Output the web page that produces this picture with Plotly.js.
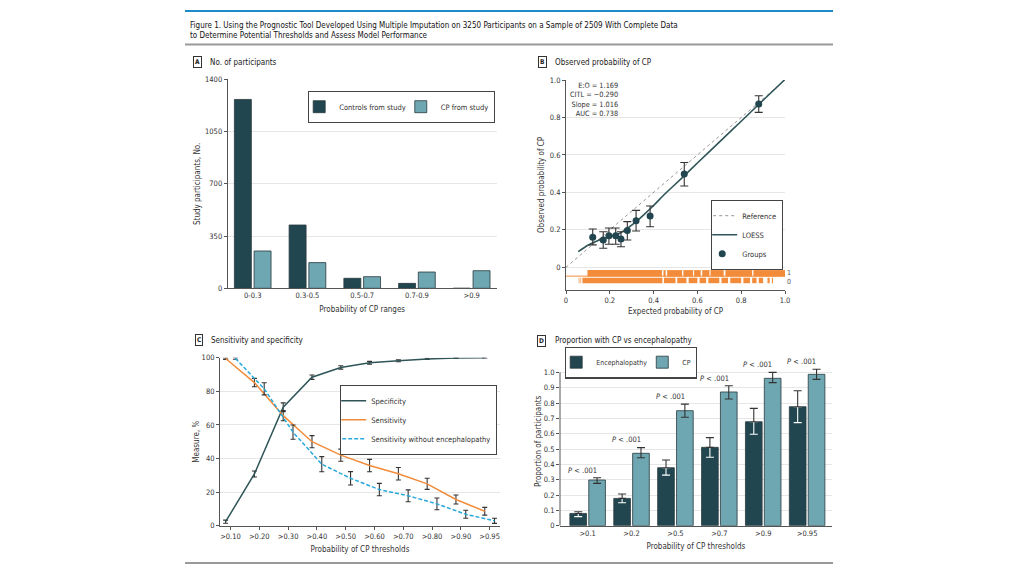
<!DOCTYPE html>
<html><head><meta charset="utf-8">
<script src="https://cdn.plot.ly/plotly-3.0.1.min.js"></script>
<style>html,body{margin:0;padding:0;background:#fff}#chart{width:1024px;height:576px}</style>
</head><body><div id="chart"></div>
<script>
// ---------- Panel A: No. of participants ----------
const rangeCats = ['0-0.3', '0.3-0.5', '0.5-0.7', '0.7-0.9', '>0.9'];
const controlsCounts = [1265, 424, 67, 33, 0];
const cpCounts = [250, 172, 78, 109, 118];

// ---------- Panel B: calibration ----------
const groupExpected = [0.122, 0.170, 0.196, 0.227, 0.251, 0.280, 0.320, 0.384, 0.540, 0.880];
const groupObserved = [0.160, 0.146, 0.169, 0.169, 0.151, 0.196, 0.249, 0.274, 0.498, 0.872];
const groupLow      = [0.120, 0.102, 0.123, 0.123, 0.110, 0.146, 0.194, 0.217, 0.434, 0.827];
const groupHigh     = [0.205, 0.190, 0.210, 0.210, 0.190, 0.244, 0.304, 0.327, 0.560, 0.916];
const loessX = [0.056, 0.10, 0.15, 0.20, 0.25, 0.30, 0.35, 0.40, 0.45, 0.50, 0.55, 0.60, 0.70, 0.80, 0.90, 1.00];
const loessY = [0.084, 0.118, 0.145, 0.163, 0.185, 0.225, 0.275, 0.330, 0.390, 0.445, 0.500, 0.557, 0.668, 0.780, 0.892, 1.003];
const referenceX = [0, 1];
const referenceY = [0, 1];
const rugCP = [[0.098,0.438],[0.445,0.455],[0.462,0.530],[0.536,0.580],[0.585,0.615],[0.622,0.655],[0.660,0.720],[0.728,0.850],[0.856,1.0]];
const rugControls = [[0.058,0.061],[0.066,0.069],[0.075,0.440],[0.447,0.500],[0.508,0.550],[0.560,0.600],[0.610,0.640],[0.650,0.700],[0.710,0.740],[0.750,0.800],[0.810,0.840],[0.850,0.870],[0.880,0.900],[0.920,0.930],[0.940,0.945]];
const statsText = ['E:O = 1.169', 'CITL = −0.290', 'Slope = 1.016', 'AUC = 0.738'];

// ---------- Panel C: sensitivity and specificity ----------
const thresholdLabels = ['>0.10', '>0.20', '>0.30', '>0.40', '>0.50', '>0.60', '>0.70', '>0.80', '>0.90', '>0.95'];
const specificity    = [2.4, 30.8, 70.5, 88.4, 94.2, 97.0, 98.2, 99.3, 99.8, 100];
const specificityErr = [0.9, 1.8, 2.6, 1.3, 1.0, 0.8, 0.6, 0.4, 0.3, 0.2];
const sensitivity    = [99.5, 85.2, 65.5, 50.0, 42.0, 35.8, 30.9, 24.9, 15.6, 8.6];
const sensitivityErr = [0.5, 2.5, 3.0, 3.6, 3.6, 3.7, 3.7, 3.3, 2.7, 2.3];
const sensNoEnc      = [99.6, 81.5, 55.7, 36.6, 28.2, 21.5, 17.8, 13.0, 6.8, 2.9];
const sensNoEncErr   = [0.5, 3.6, 4.2, 4.5, 4.0, 3.7, 3.5, 3.5, 2.4, 1.5];

// ---------- Panel D: proportion with CP vs encephalopathy ----------
const dCats = ['>0.1', '>0.2', '>0.5', '>0.7', '>0.9', '>0.95'];
const encProp = [0.080, 0.178, 0.378, 0.511, 0.678, 0.776];
const encLow  = [0.059, 0.150, 0.330, 0.446, 0.596, 0.672];
const encHigh = [0.091, 0.207, 0.428, 0.574, 0.765, 0.880];
const cpProp  = [0.298, 0.472, 0.750, 0.872, 0.961, 0.987];
const cpLow   = [0.276, 0.443, 0.707, 0.826, 0.933, 0.954];
const cpHigh  = [0.313, 0.509, 0.793, 0.913, 1.000, 1.020];
const pLabel = '<i>P</i> < .001';

// ---------- styling ----------
const FONT = 'DejaVu Sans Condensed, Liberation Sans Narrow, Roboto, Arial, sans-serif';
const DARK = '#21464f', TEAL = '#6ea6b1', OUTLINE = '#2a3a3f';
const ORANGE = '#f28c3a', BLUE = '#28a9dd', SPEC = '#2f5558', GRID = '#e6e6e6', AX = '#555';
const PX = x => x / 1024;
const PY = y => 1 - y / 576;

const idx = a => a.map((_, i) => i);
const segs = (list, y) => {
  const xs = [], ys = [];
  list.forEach(s => { xs.push(s[0], s[1], null); ys.push(y, y, null); });
  return {x: xs, y: ys};
};

// bar geometry (in category units)
const aWidth = 0.31, aOffCtrl = -0.335, aOffCP = 0.025;
const dWidth = 0.38, dOffEnc = -0.405, dOffCP = 0.025;
const cShift = 0.17;

const traces = [];

// A
traces.push({type: 'bar', x: rangeCats, y: controlsCounts, name: 'Controls from study', xaxis: 'x', yaxis: 'y',
  width: aWidth, offset: aOffCtrl, marker: {color: DARK, line: {color: OUTLINE, width: 0.8}}, legend: 'legend', hoverinfo: 'skip'});
traces.push({type: 'bar', x: rangeCats, y: cpCounts, name: 'CP from study', xaxis: 'x', yaxis: 'y',
  width: aWidth, offset: aOffCP, marker: {color: TEAL, line: {color: OUTLINE, width: 0.8}}, legend: 'legend', hoverinfo: 'skip'});

// B
const r1 = segs(rugCP, -0.032), r0 = segs(rugControls, -0.070);
traces.push({type: 'scatter', mode: 'lines', x: [0, 1], y: [-0.047, -0.047], xaxis: 'x2', yaxis: 'y2', showlegend: false,
  line: {color: ORANGE, width: 1}, hoverinfo: 'skip'});
traces.push({type: 'scatter', mode: 'lines', x: r1.x, y: r1.y, xaxis: 'x2', yaxis: 'y2', showlegend: false,
  line: {color: ORANGE, width: 6.5}, connectgaps: false, hoverinfo: 'skip'});
traces.push({type: 'scatter', mode: 'lines', x: r0.x, y: r0.y, xaxis: 'x2', yaxis: 'y2', showlegend: false,
  line: {color: ORANGE, width: 5.5}, connectgaps: false, hoverinfo: 'skip'});
traces.push({type: 'scatter', mode: 'lines', x: referenceX, y: referenceY, name: 'Reference', xaxis: 'x2', yaxis: 'y2',
  line: {color: '#8a8a8a', width: 0.9, dash: 'dot'}, legend: 'legend2', hoverinfo: 'skip'});
traces.push({type: 'scatter', mode: 'lines', x: loessX, y: loessY, name: 'LOESS', xaxis: 'x2', yaxis: 'y2',
  line: {color: SPEC, width: 1.6, shape: 'spline', smoothing: 0.6}, legend: 'legend2', hoverinfo: 'skip'});
traces.push({type: 'scatter', mode: 'markers', x: groupExpected, y: groupObserved, name: 'Groups', xaxis: 'x2', yaxis: 'y2',
  marker: {color: DARK, size: 7},
  error_y: {type: 'data', symmetric: false, array: groupHigh.map((h, i) => h - groupObserved[i]),
    arrayminus: groupObserved.map((v, i) => v - groupLow[i]), color: '#333', thickness: 1.1, width: 4},
  legend: 'legend2', hoverinfo: 'skip'});

// C
traces.push({type: 'scatter', mode: 'lines', x: idx(specificity).map(i => i - cShift), y: specificity, name: 'Specificity',
  xaxis: 'x3', yaxis: 'y3', line: {color: SPEC, width: 1.5}, cliponaxis: false,
  error_y: {type: 'data', array: specificityErr, color: '#333', thickness: 1.1, width: 2.5}, legend: 'legend3', hoverinfo: 'skip'});
traces.push({type: 'scatter', mode: 'lines', x: idx(sensitivity).map(i => i - cShift), y: sensitivity, name: 'Sensitivity',
  xaxis: 'x3', yaxis: 'y3', line: {color: ORANGE, width: 1.5}, cliponaxis: false,
  error_y: {type: 'data', array: sensitivityErr, color: '#333', thickness: 1.1, width: 2.5}, legend: 'legend3', hoverinfo: 'skip'});
traces.push({type: 'scatter', mode: 'lines', x: idx(sensNoEnc).map(i => i + cShift), y: sensNoEnc, name: 'Sensitivity without encephalopathy',
  xaxis: 'x3', yaxis: 'y3', line: {color: BLUE, width: 1.5, dash: '4px,2px'}, cliponaxis: false,
  error_y: {type: 'data', array: sensNoEncErr, color: '#333', thickness: 1.1, width: 2.5}, legend: 'legend3', hoverinfo: 'skip'});

// D
traces.push({type: 'bar', x: idx(encProp), y: encProp, name: 'Encephalopathy', xaxis: 'x4', yaxis: 'y4',
  width: dWidth, offset: dOffEnc, marker: {color: DARK, line: {color: OUTLINE, width: 0.8}}, legend: 'legend4', hoverinfo: 'skip'});
traces.push({type: 'bar', x: idx(cpProp), y: cpProp, name: 'CP', xaxis: 'x4', yaxis: 'y4',
  width: dWidth, offset: dOffCP, marker: {color: TEAL, line: {color: OUTLINE, width: 0.8}}, legend: 'legend4',
  error_y: {type: 'data', symmetric: false, array: cpHigh.map((h, i) => h - cpProp[i]),
    arrayminus: cpProp.map((v, i) => v - cpLow[i]), color: '#333', thickness: 1.1, width: 4}, hoverinfo: 'skip'});
const encCenters = idx(encProp).map(i => i + dOffEnc + dWidth / 2);
traces.push({type: 'scatter', mode: 'none', x: encCenters, y: encLow, xaxis: 'x4', yaxis: 'y4', showlegend: false,
  error_y: {type: 'data', symmetric: false, array: encProp.map((v, i) => v - encLow[i]), arrayminus: encProp.map(() => 0),
    color: '#ffffff', thickness: 1.1, width: 4}, hoverinfo: 'skip'});
traces.push({type: 'scatter', mode: 'none', x: encCenters, y: encProp, xaxis: 'x4', yaxis: 'y4', showlegend: false,
  error_y: {type: 'data', symmetric: false, array: encHigh.map((h, i) => h - encProp[i]), arrayminus: encProp.map(() => 0),
    color: '#333', thickness: 1.1, width: 4}, hoverinfo: 'skip'});

const tickFont = {size: 7.5, color: '#333', family: FONT};
const titleFont = {size: 8, color: '#333', family: FONT};
const base = {showline: true, linecolor: AX, linewidth: 1, ticks: 'outside', ticklen: 3, tickcolor: AX,
  tickfont: tickFont, zeroline: false, showgrid: false, fixedrange: true, automargin: false};

const annotations = [];
// B stats
annotations.push({xref: 'paper', yref: 'paper', x: PX(620), y: PY(79), xanchor: 'right', yanchor: 'top', align: 'right',
  showarrow: false, text: statsText.join('<br>'), font: {size: 7.3, color: '#333', family: FONT}});
// rug labels
annotations.push({xref: 'x2', yref: 'y2', x: 1, y: -0.030, xanchor: 'left', yanchor: 'middle', showarrow: false, text: '1',
  font: {size: 7, color: '#555', family: FONT}});
annotations.push({xref: 'x2', yref: 'y2', x: 1, y: -0.078, xanchor: 'left', yanchor: 'middle', showarrow: false, text: '0',
  font: {size: 7, color: '#555', family: FONT}});
// P labels
cpHigh.forEach((h, i) => annotations.push({xref: 'x4', yref: 'y4', x: i - 0.12, y: h + 0.05, showarrow: false,
  text: pLabel, font: {size: 7.5, color: '#333', family: FONT}, xanchor: 'center', yanchor: 'middle'}));
// panel headers
const headers = [['A', 'No. of participants', 197, 208, 62.5], ['B', 'Observed probability of CP', 542, 552.5, 62.5],
                 ['C', 'Sensitivity and specificity', 198.5, 208.5, 340.3], ['D', 'Proportion with CP vs encephalopathy', 541.7, 552.5, 340.5]];
headers.forEach(h => {
  annotations.push({xref: 'paper', yref: 'paper', x: PX(h[2]), y: PY(h[4]), xanchor: 'center', yanchor: 'middle', showarrow: false,
    text: '<b>' + h[0] + '</b>', font: {size: 6.5, color: '#222', family: FONT}, bordercolor: '#333', borderwidth: 1, borderpad: 1});
  annotations.push({xref: 'paper', yref: 'paper', x: PX(h[3]), y: PY(h[4]), xanchor: 'left', yanchor: 'middle', showarrow: false,
    text: h[1], font: {size: 8, color: '#222', family: FONT}});
});

const shapes = [
  {type: 'line', xref: 'paper', yref: 'paper', x0: PX(185), x1: PX(833), y0: PY(11), y1: PY(11), line: {color: '#1b8cc8', width: 2.2}},
  {type: 'line', xref: 'paper', yref: 'paper', x0: PX(185), x1: PX(833), y0: PY(44.5), y1: PY(44.5), line: {color: '#999', width: 1.8}},
  {type: 'line', xref: 'paper', yref: 'paper', x0: PX(185), x1: PX(833), y0: PY(563), y1: PY(563), line: {color: '#999', width: 1.8}},
  {type: 'line', xref: 'x4 domain', yref: 'y4', x0: 0, x1: 0, y0: 0, y1: 1.0, line: {color: AX, width: 1}}
];

const legendBase = {bgcolor: '#fff', bordercolor: '#444', borderwidth: 1.2, font: {size: 7.5, color: '#333', family: FONT},
  yanchor: 'top', tracegroupgap: 0, itemclick: false, itemdoubleclick: false, indentation: -10, itemwidth: 30};

const layout = {
  width: 1024, height: 576, margin: {l: 0, r: 0, t: 0, b: 0}, paper_bgcolor: '#fff', plot_bgcolor: '#fff',
  font: {family: FONT, color: '#333'}, showlegend: true, hovermode: false,
  title: {text: 'Figure 1. Using the Prognostic Tool Developed Using Multiple Imputation on 3250 Participants on a Sample of 2509 With Complete Data<br>to Determine Potential Thresholds and Assess Model Performance',
    x: PX(190), xanchor: 'left', y: PY(27.5), yanchor: 'middle', xref: 'paper', yref: 'container',
    font: {size: 8, color: '#111', family: FONT}},
  xaxis: Object.assign({}, base, {domain: [PX(227.7), PX(496.7)], anchor: 'y', type: 'category', range: [-0.457, 4.457],
    ticks: '', title: {text: 'Probability of CP ranges', font: titleFont, standoff: 7}}),
  yaxis: Object.assign({}, base, {domain: [PY(288.3), PY(79.3)], anchor: 'x', range: [0, 1400], tickvals: [0, 350, 700, 1050, 1400],
    showgrid: true, gridcolor: GRID, title: {text: 'Study participants, No.', font: titleFont, standoff: 3}}),
  xaxis2: Object.assign({}, base, {domain: [PX(566), PX(785)], anchor: 'y2', range: [0, 1], tickvals: [0, 0.2, 0.4, 0.6, 0.8, 1.0],
    ticktext: ['0', '0.2', '0.4', '0.6', '0.8', '1.0'], title: {text: 'Expected probability of CP', font: titleFont, standoff: 4}}),
  yaxis2: Object.assign({}, base, {domain: [PY(290), PY(80)], anchor: 'x2', range: [-0.121, 1.0], tickvals: [0, 0.2, 0.4, 0.6, 0.8, 1.0],
    ticktext: ['0', '0.2', '0.4', '0.6', '0.8', '1.0'], showgrid: true, gridcolor: GRID,
    title: {text: 'Observed probability of CP', font: titleFont, standoff: 3}}),
  xaxis3: Object.assign({}, base, {domain: [PX(220), PX(500)], anchor: 'y3', range: [-0.365, 9.36], tickvals: idx(thresholdLabels),
    ticktext: thresholdLabels, title: {text: 'Probability of CP thresholds', font: titleFont, standoff: 6}}),
  yaxis3: Object.assign({}, base, {domain: [PY(525.7), PY(357.7)], anchor: 'x3', range: [0, 100], tickvals: [0, 20, 40, 60, 80, 100],
    showgrid: true, gridcolor: GRID, title: {text: 'Measure, %', font: titleFont, standoff: 0}}),
  xaxis4: Object.assign({}, base, {domain: [PX(560), PX(831.7)], anchor: 'y4', range: [-0.63, 5.56], tickvals: idx(dCats),
    ticktext: dCats, ticks: '', title: {text: 'Probability of CP thresholds', font: titleFont, standoff: 6}}),
  yaxis4: Object.assign({}, base, {domain: [PY(525.7), PY(357)], anchor: 'x4', range: [0, 1.1], showline: false,
    tickvals: [0, 0.1, 0.2, 0.3, 0.4, 0.5, 0.6, 0.7, 0.8, 0.9, 1.0],
    ticktext: ['0', '0.1', '0.2', '0.3', '0.4', '0.5', '0.6', '0.7', '0.8', '0.9', '1.0'], showgrid: true, gridcolor: GRID,
    title: {text: 'Proportion of participants', font: titleFont, standoff: 0}}),
  legend: Object.assign({}, legendBase, {x: PX(495), xanchor: 'right', y: PY(91), orientation: 'h'}),
  legend2: Object.assign({}, legendBase, {x: PX(783), xanchor: 'right', y: PY(200), orientation: 'v'}),
  legend3: Object.assign({}, legendBase, {x: PX(497), xanchor: 'right', y: PY(385), orientation: 'v'}),
  legend4: Object.assign({}, legendBase, {x: PX(565), xanchor: 'left', y: PY(346.5), orientation: 'h',
    font: {size: 7, color: '#333', family: FONT}}),
  annotations: annotations, shapes: shapes
};

Plotly.newPlot('chart', traces, layout, {displayModeBar: false, staticPlot: true});
</script>
</body></html>
